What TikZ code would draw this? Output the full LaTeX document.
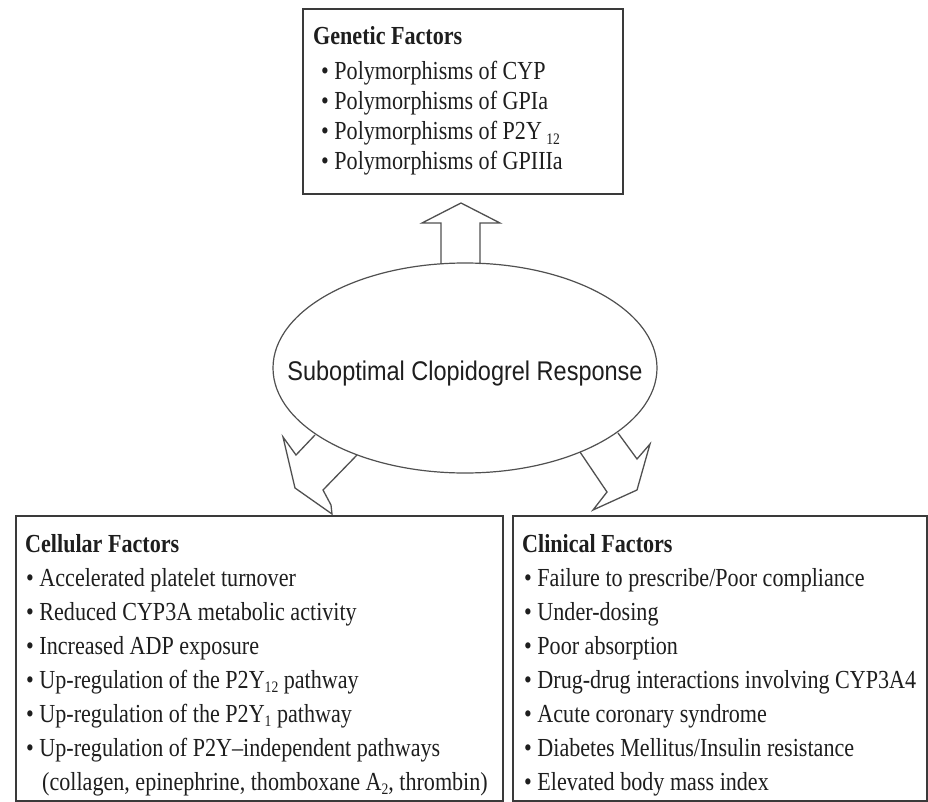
\documentclass[tikz,border=0pt]{standalone}
\usepackage{fontspec}
\setmainfont[FakeStretch=0.85]{Liberation Serif}
\setsansfont[FakeStretch=0.87]{Liberation Sans}
\usetikzlibrary{shapes.geometric}
\definecolor{ink}{HTML}{1E1E1E}
\definecolor{frame}{HTML}{3A3A3A}
\definecolor{arrowgray}{HTML}{505050}
% subscript set lower than usual, as in the printed figure
\newcommand\lowsub[1]{\raisebox{-4.5pt}{\fontsize{16}{16}\selectfont #1}}
\tikzset{
  factorbox/.style={draw=frame, line width=2pt, inner sep=0, anchor=north west},
  hd/.style={anchor=base west, inner sep=0, text=ink,
    font=\fontsize{26}{30}\selectfont\bfseries},
  itm/.style={anchor=base west, inner sep=0, text=ink,
    font=\fontsize{26}{30}\selectfont},
  blockarrow/.style={draw=arrowgray, line width=1.3pt, line join=miter},
  core/.style={ellipse, draw=arrowgray, line width=1.2pt, inner sep=0,
    minimum width=384pt, minimum height=210pt}
}
\begin{document}
\begin{tikzpicture}[x=1pt,y=-1pt]
\useasboundingbox (0,0) rectangle (928,802);
\fill[white] (0,0) rectangle (928,802);

% frames of the three factor groups
\node[factorbox, minimum width=320pt, minimum height=185pt] (genbox) at (302,8) {};
\node[factorbox, minimum width=487pt, minimum height=285pt] (cellbox) at (15,515) {};
\node[factorbox, minimum width=414pt, minimum height=285pt] (clinbox) at (512,515) {};

% central response
\node[core] (resp) at (465,368) {};
\node[anchor=base, inner sep=0, text=ink, font=\sffamily\fontsize{27}{30}\selectfont]
  (resptext) at (465,380) {Suboptimal Clopidogrel Response};

% block arrow up to the genetic factors
\draw[blockarrow] (441,264) -- (441,223) -- (422,223) -- (461,203)
  -- (500,223) -- (480,223) -- (480,264);

% block arrow down-left to the cellular factors
\draw[blockarrow] (315,435) -- (296,455) -- (283,437) -- (295,488)
  -- (332,514) -- (331,505) -- (323,490) -- (357,455);

% block arrow down-right to the clinical factors
\draw[blockarrow] (580,452) -- (607,492) -- (593,510) -- (637,490)
  -- (650,444) -- (637,459) -- (618,433);

% genetic factors
\node[hd] (genhd) at (313,45) {Genetic Factors};
\foreach \t [count=\i] in {Polymorphisms of CYP, Polymorphisms of GPIa,
    Polymorphisms of P2Y\,\lowsub{12}, Polymorphisms of GPIIIa}
  \node[itm] (gen\i) at (321,{50+30*\i}) {\textbullet\ \t};

% cellular factors
\node[hd] (cellhd) at (25,552) {Cellular Factors};
\foreach \t [count=\i] in {Accelerated platelet turnover,
    Reduced CYP3A metabolic activity, Increased ADP exposure,
    Up-regulation of the P2Y\lowsub{12} pathway,
    Up-regulation of the P2Y\lowsub{1} pathway,
    Up-regulation of P2Y--independent pathways}
  \node[itm] (cell\i) at (26,{552+34*\i}) {\textbullet\ \t};
\node[itm] (cell7) at (42,790) {(collagen, epinephrine, thomboxane A\lowsub{2}, thrombin)};

% clinical factors
\node[hd] (clinhd) at (522,552) {Clinical Factors};
\foreach \t [count=\i] in {Failure to prescribe/Poor compliance, Under-dosing,
    Poor absorption, Drug-drug interactions involving CYP3A4,
    Acute coronary syndrome, Diabetes Mellitus/Insulin resistance,
    Elevated body mass index}
  \node[itm] (clin\i) at (524,{552+34*\i}) {\textbullet\ \t};
\end{tikzpicture}
\end{document}
